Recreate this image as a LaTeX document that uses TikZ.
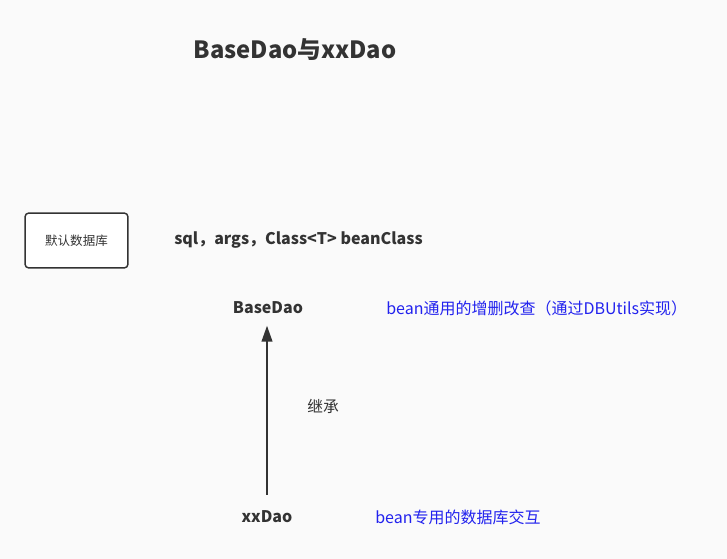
\documentclass[tikz,border=0pt]{standalone}
\usepackage{fontspec}
\setmainfont{Noto Sans CJK SC}
\usetikzlibrary{arrows.meta}
\definecolor{bgc}{RGB}{250,250,250}
\definecolor{ink}{RGB}{51,51,51}
\definecolor{bluet}{RGB}{34,34,238}
\begin{document}
\begin{tikzpicture}[x=0.75pt,y=-0.75pt,
  lbl/.style={inner sep=0pt,text=ink,font=\fontsize{12}{14}\selectfont\bfseries},
  note/.style={inner sep=0pt,anchor=west,text=bluet,font=\fontsize{12}{14}\selectfont},
  plain/.style={inner sep=0pt,anchor=west,text=ink,font=\fontsize{11.8}{13}\selectfont},
  dbbox/.style={draw=ink,line width=1.1pt,rounded corners=2.5pt,fill=white,minimum width=77pt,minimum height=41pt,inner sep=0pt,text=ink,font=\fontsize{9.4}{11}\selectfont},
  inh/.style={draw=ink,line width=1.5pt,-{Triangle[length=12pt,width=8pt]}}]
\fill[bgc] (0,0) rectangle (727,559);
\useasboundingbox (0,0) rectangle (727,559);
\node[inner sep=0pt,text=ink,font=\fontsize{17.8}{20}\selectfont\bfseries] (title) at (295,50) {BaseDao与xxDao};
\node[dbbox] (db) at (76.5,240.5) {默认数据库};
\node[lbl,anchor=west] (args) at (174,240) {sql，args，Class<T> beanClass};
\node[lbl] (base) at (268,308) {BaseDao};
\node[note] (basenote) at (386,308) {bean通用的增删改查（通过DBUtils实现）};
\node[lbl] (xx) at (267,517) {xxDao};
\node[note] (xxnote) at (375,517) {bean专用的数据库交互};
\node[plain] (inhlbl) at (307,406) {继承};
\draw[inh] ([yshift=12pt]xx.north) -- ([yshift=-8.5pt]base.south -| xx.north);
\end{tikzpicture}
\end{document}
